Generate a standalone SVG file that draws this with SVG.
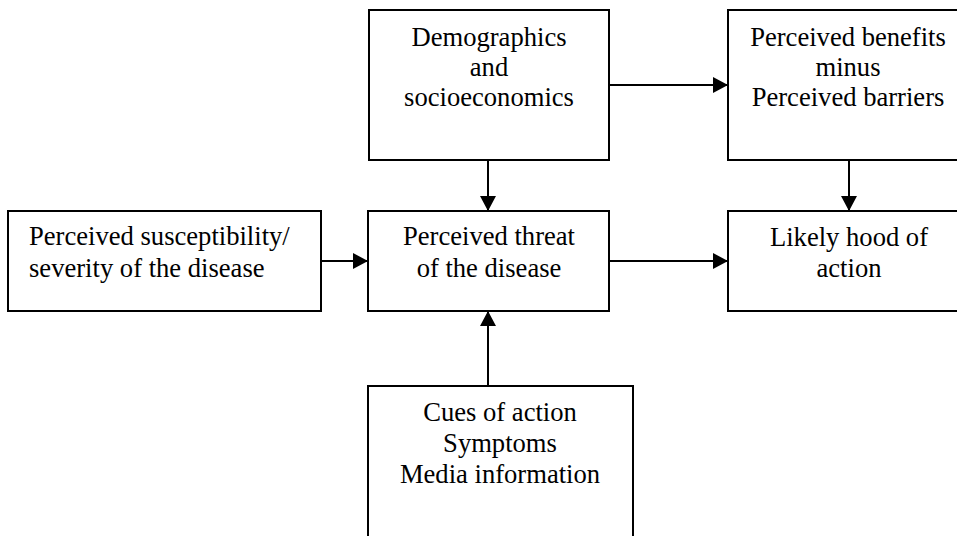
<svg xmlns="http://www.w3.org/2000/svg" width="957" height="536" viewBox="0 0 957 536">
  <style>
    .box { fill: #ffffff; stroke: #000000; stroke-width: 2; }
    .lbl { font-family: "Liberation Serif", "Times New Roman", serif; font-size: 26.6px; fill: #000000; }
    .c { text-anchor: middle; }
    .edge { stroke: #000000; stroke-width: 2; fill: none; marker-end: url(#arrow); }
  </style>
  <defs>
    <marker id="arrow" viewBox="0 0 15 16" refX="15" refY="8" markerWidth="15" markerHeight="16" markerUnits="userSpaceOnUse" orient="auto">
      <path d="M0,0 L15,8 L0,16 Z" fill="#000000"/>
    </marker>
  </defs>
  <rect width="957" height="536" fill="#ffffff"/>

  <g id="demographics">
    <rect class="box" x="369" y="10" width="240" height="150"/>
    <text class="lbl c" x="489" y="46">Demographics</text>
    <text class="lbl c" x="489" y="76">and</text>
    <text class="lbl c" x="489" y="106">socioeconomics</text>
  </g>

  <g id="benefits">
    <rect class="box" x="728" y="10" width="240" height="150"/>
    <text class="lbl c" x="848" y="46">Perceived benefits</text>
    <text class="lbl c" x="848" y="76">minus</text>
    <text class="lbl c" x="848" y="106">Perceived barriers</text>
  </g>

  <g id="susceptibility">
    <rect class="box" x="8" y="211" width="313" height="100"/>
    <text class="lbl" x="29" y="245">Perceived susceptibility/</text>
    <text class="lbl" x="29" y="277">severity of the disease</text>
  </g>

  <g id="threat">
    <rect class="box" x="368" y="211" width="241" height="100"/>
    <text class="lbl c" x="489" y="245">Perceived threat</text>
    <text class="lbl c" x="489" y="277">of the disease</text>
  </g>

  <g id="likelihood">
    <rect class="box" x="728" y="211" width="240" height="100"/>
    <text class="lbl c" x="849" y="246">Likely hood of</text>
    <text class="lbl c" x="849" y="277">action</text>
  </g>

  <g id="cues">
    <rect class="box" x="368" y="386" width="265" height="170"/>
    <text class="lbl c" x="500" y="421">Cues of action</text>
    <text class="lbl c" x="500" y="452">Symptoms</text>
    <text class="lbl c" x="500" y="483">Media information</text>
  </g>

  <g id="connectors">
    <line class="edge" x1="609" y1="85" x2="728" y2="85"/>
    <line class="edge" x1="488" y1="160" x2="488" y2="211"/>
    <line class="edge" x1="849" y1="160" x2="849" y2="211"/>
    <line class="edge" x1="321" y1="261" x2="368" y2="261"/>
    <line class="edge" x1="609" y1="261" x2="728" y2="261"/>
    <line class="edge" x1="488" y1="386" x2="488" y2="311"/>
  </g>
</svg>
